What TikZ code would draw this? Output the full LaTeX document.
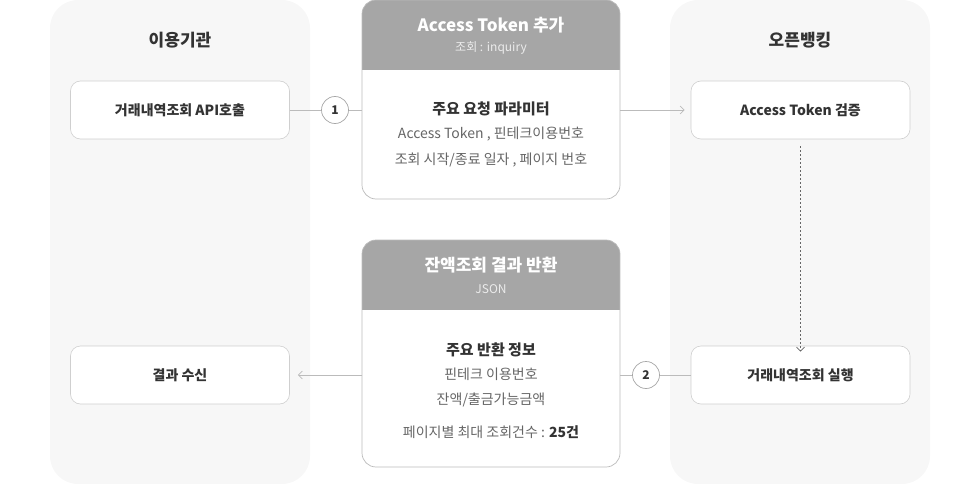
\documentclass[tikz,border=0pt]{standalone}
\usepackage{fontspec}
\setmainfont{Noto Sans CJK KR}
\usetikzlibrary{arrows.meta}
\definecolor{panel}{HTML}{F7F7F7}
\definecolor{hdr}{HTML}{A6A6A6}
\definecolor{ln}{HTML}{BBBBBB}
\definecolor{txt}{HTML}{333333}
\definecolor{sub}{HTML}{666666}
\tikzset{
 x=1pt,y=-1pt,
 panel/.style={fill=panel,draw=none,rounded corners=28pt},
 item/.style={draw=ln!70,fill=white,rounded corners=10pt,minimum width=219pt,minimum height=58pt,font=\fontsize{14}{16}\selectfont\bfseries,text=txt,line width=0.6pt},
 num/.style={circle,draw=ln!130,fill=white,minimum size=27pt,inner sep=0pt,font=\fontsize{12}{14}\selectfont\bfseries,text=txt,line width=0.7pt},
 conn/.style={draw=ln,line width=0.7pt},
 arr/.style={conn,-{Straight Barb[length=4pt,width=8pt]}},
 body/.style={font=\fontsize{14}{16}\selectfont,text=sub,align=center},
}
\begin{document}
\begin{tikzpicture}
\useasboundingbox (0,0) rectangle (980,484);
\fill[panel] (50,0) rectangle (310,484);
\fill[panel] (670,0) rectangle (930,484);
\node[font=\fontsize{17}{20}\selectfont\bfseries,text=txt] (lt) at (180,40) {이용기관};
\node[font=\fontsize{17}{20}\selectfont\bfseries,text=txt] (rt) at (800,40) {오픈뱅킹};
\node[item] (a1) at (180,110) {거래내역조회 API호출};
\node[item] (a2) at (180,375) {결과 수신};
\node[item] (b1) at (800.5,110) {Access Token 검증};
\node[item] (b2) at (800.5,375) {거래내역조회 실행};
% top center box
\begin{scope}
\clip[rounded corners=14pt] (362,0) rectangle (620,199);
\fill[white] (362,0) rectangle (620,199);
\fill[hdr] (362,0) rectangle (620,70);
\end{scope}
\draw[ln,line width=0.7pt,rounded corners=14pt] (362,0) rectangle (620,199);
\coordinate (c1) at (491,100);
\node[font=\fontsize{17}{20}\selectfont\bfseries,text=white] (h1) at (491,25) {Access Token 추가};
\node[font=\fontsize{12}{14}\selectfont,text=white!92!black] (h1s) at (491,48) {조회 : inquiry};
\node[font=\fontsize{15}{18}\selectfont\bfseries,text=txt] (t1) at (491,109) {주요 요청 파라미터};
\node[body] (t1a) at (491,134) {Access Token , 핀테크이용번호};
\node[body] (t1b) at (491,160) {조회 시작/종료 일자 , 페이지 번호};
% bottom center box
\begin{scope}
\clip[rounded corners=14pt] (362,240) rectangle (620,467);
\fill[white] (362,240) rectangle (620,467);
\fill[hdr] (362,240) rectangle (620,310);
\end{scope}
\draw[ln,line width=0.7pt,rounded corners=14pt] (362,240) rectangle (620,467);
\node[font=\fontsize{17}{20}\selectfont\bfseries,text=white] (h2) at (491,265) {잔액조회 결과 반환};
\node[font=\fontsize{12}{14}\selectfont,text=white!92!black] (h2s) at (491,289) {JSON};
\node[font=\fontsize{15}{18}\selectfont\bfseries,text=txt] (t2) at (491,350) {주요 반환 정보};
\node[body] (t2a) at (491,374) {핀테크 이용번호};
\node[body] (t2b) at (491,400) {잔액/출금가능금액};
\node[body] (t2c) at (491,432) {페이지별 최대 조회건수 : \textbf{\textcolor{txt}{25건}}};
% connectors
\coordinate (tl) at (362,110);
\coordinate (tr) at (620,110);
\coordinate (bl) at (362,375);
\coordinate (br) at (620,375);
\node[num] (n1) at (335,110) {1};
\node[num] (n2) at (646,375) {2};
\draw[conn] (a1.east) -- (n1.west);
\draw[conn] (n1.east) -- (tl);
\draw[arr] (tr) -- ([xshift=-6pt]b1.west);
\draw[conn] (br) -- (n2.west);
\draw[conn] (n2.east) -- (b2.west);
\draw[arr] (bl) -- ([xshift=8pt]a2.east);
\draw[conn,draw=sub,dash pattern=on 2pt off 2pt,-{Straight Barb[length=4pt,width=8pt]}] ([yshift=-7pt]b1.south) -- ([yshift=-6pt]b2.north);
\end{tikzpicture}
\end{document}
